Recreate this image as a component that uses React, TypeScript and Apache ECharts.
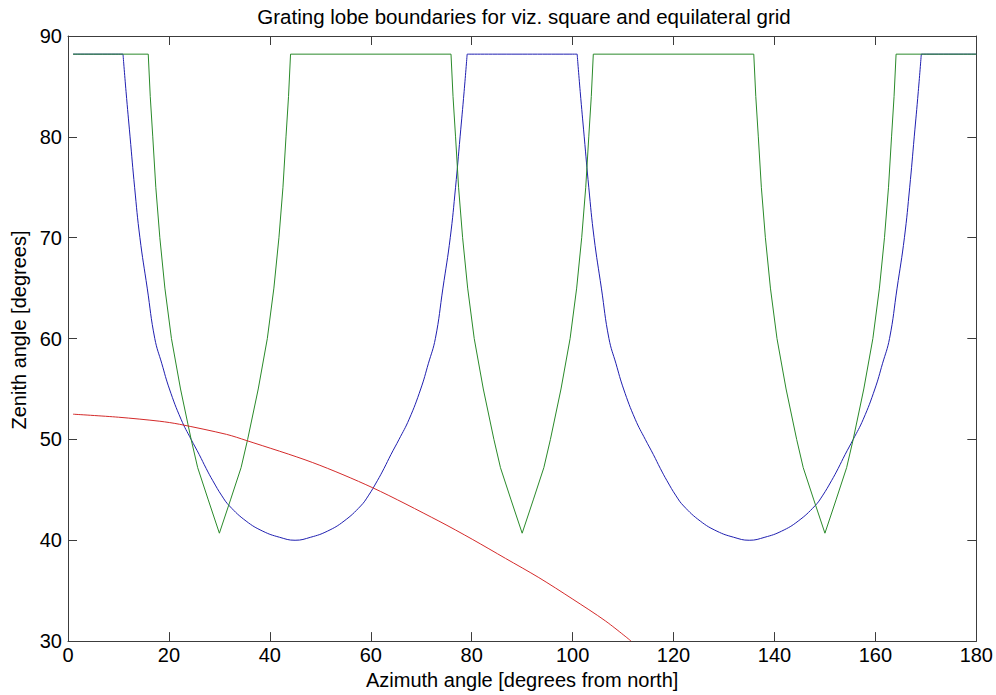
import React, { useEffect, useRef } from "react";
import * as echarts from "echarts";

const titleText = "Grating lobe boundaries for viz. square and equilateral grid";
const xAxisName = "Azimuth angle [degrees from north]";
const yAxisName = "Zenith angle [degrees]";

// Square grid boundary (blue)
const blueAz = [
  1, 10.9, 11.5, 12.3, 13.2, 14.25, 15.7, 17.2, 18.6, 20.1, 22.4, 24.4, 26.0, 27.4, 28.7, 30.5, 32.0, 35.3, 38.6, 41.9, 45,
  48.1, 51.4, 54.7, 58.0, 59.5, 61.3, 62.6, 64.0, 65.6, 67.6, 69.9, 71.4, 72.8, 74.3, 75.75, 76.8, 77.7, 78.5, 79.1,
  100.9, 101.5, 102.3, 103.2, 104.25, 105.7, 107.2, 108.6, 110.1, 112.4, 114.4, 116.0, 117.4, 118.7, 120.5, 122.0, 125.3, 128.6, 131.9, 135,
  138.1, 141.4, 144.7, 148.0, 149.5, 151.3, 152.6, 154.0, 155.6, 157.6, 159.9, 161.4, 162.8, 164.3, 165.75, 166.8, 167.7, 168.5, 169.1, 180,
];
const blueZen = [
  88.2, 88.2, 84.5, 80, 75, 70, 65, 60, 57.5, 55, 52, 50, 48.5, 47.1, 45.9, 44.4, 43.4, 41.9, 40.9, 40.3, 40.0,
  40.3, 40.9, 41.9, 43.4, 44.4, 45.9, 47.1, 48.5, 50, 52, 55, 57.5, 60, 65, 70, 75, 80, 84.5, 88.2,
  88.2, 84.5, 80, 75, 70, 65, 60, 57.5, 55, 52, 50, 48.5, 47.1, 45.9, 44.4, 43.4, 41.9, 40.9, 40.3, 40.0,
  40.3, 40.9, 41.9, 43.4, 44.4, 45.9, 47.1, 48.5, 50, 52, 55, 57.5, 60, 65, 70, 75, 80, 84.5, 88.2, 88.2,
];

// Equilateral grid boundary (green)
const greenAz = [
  1, 15.9, 16.3, 16.8, 17.4, 18.2, 19.2, 20.5, 22.3, 24.4, 25.7, 27.8, 30,
  32.2, 34.3, 35.6, 37.7, 39.5, 40.8, 41.8, 42.6, 43.2, 43.7, 44.1,
  75.9, 76.3, 76.8, 77.4, 78.2, 79.2, 80.5, 82.3, 84.4, 85.7, 87.8, 90,
  92.2, 94.3, 95.6, 97.7, 99.5, 100.8, 101.8, 102.6, 103.2, 103.7, 104.1,
  135.9, 136.3, 136.8, 137.4, 138.2, 139.2, 140.5, 142.3, 144.4, 145.7, 147.8, 150,
  152.2, 154.3, 155.6, 157.7, 159.5, 160.8, 161.8, 162.6, 163.2, 163.7, 164.1, 180,
];
const greenZen = [
  88.2, 88.2, 84, 80, 75, 70, 65, 60, 55, 50, 47.2, 44, 40.7,
  44, 47.2, 50, 55, 60, 65, 70, 75, 80, 84, 88.2,
  88.2, 84, 80, 75, 70, 65, 60, 55, 50, 47.2, 44, 40.7,
  44, 47.2, 50, 55, 60, 65, 70, 75, 80, 84, 88.2,
  88.2, 84, 80, 75, 70, 65, 60, 55, 50, 47.2, 44, 40.7,
  44, 47.2, 50, 55, 60, 65, 70, 75, 80, 84, 88.2, 88.2,
];

// Red curve
const redAz = [1, 10, 18.2, 22.1, 31.4, 35.3, 48.5, 60.4, 73.5, 80.1, 86.7, 93.3, 99.9, 106.5, 111.6];
const redZen = [52.5, 52.2, 51.8, 51.5, 50.5, 49.9, 47.7, 45.2, 41.9, 40.1, 38.2, 36.3, 34.2, 32.0, 30.0];

const capZen = 88.2;
const xTicks = { min: 0, max: 180, interval: 20 };
const yTicks = { min: 30, max: 90, interval: 10 };

const zip = (a: number[], b: number[]) => a.map((v, i) => [v, b[i]]);

// split a capped curve into flat-cap pieces and curved pieces (so smoothing keeps cap corners sharp)
const segmented = (az: number[], zen: number[], cap: number) => {
  const out: (number | string)[][] = [[az[0], zen[0]]];
  let prev: string | null = null;
  for (let i = 0; i < az.length - 1; i++) {
    const type = zen[i] === cap && zen[i + 1] === cap ? "cap" : "curve";
    if (prev && type !== prev) {
      out.push(["-", "-"]);
      out.push([az[i], zen[i]]);
    }
    out.push([az[i + 1], zen[i + 1]]);
    prev = type;
  }
  return out;
};

export default function App() {
  const ref = useRef<HTMLDivElement>(null);
  useEffect(() => {
    if (!ref.current) return;
    const chart = echarts.init(ref.current, null, { renderer: "svg" });
    const font = "'Liberation Sans', Arial, Helvetica, sans-serif";
    const axisColor = "#3c3c3c";
    const fs = 20;
    const line = { show: true, onZero: false, lineStyle: { color: axisColor, width: 1 } };
    const tick = { show: true, inside: true, length: 9, lineStyle: { color: axisColor, width: 1 } };
    const label = { color: "#000", fontSize: fs, fontFamily: font };
    chart.setOption({
      animation: false,
      backgroundColor: "#fff",
      graphic: [
        {
          type: "text",
          x: 524,
          y: 6,
          style: {
            text: titleText,
            fill: "#000",
            fontSize: 20.5,
            fontFamily: font,
            textAlign: "center",
            textVerticalAlign: "top",
          },
        },
        {
          type: "text",
          x: 19,
          y: 330,
          rotation: Math.PI / 2,
          style: {
            text: yAxisName,
            fill: "#000",
            fontSize: fs,
            fontFamily: font,
            textAlign: "center",
            textVerticalAlign: "middle",
          },
        },
      ],
      grid: { left: 68, right: 18, top: 36, bottom: 50, containLabel: false },
      xAxis: [
        {
          type: "value",
          ...xTicks,
          position: "bottom",
          axisLine: line,
          axisTick: tick,
          axisLabel: { ...label, margin: 4 },
          splitLine: { show: false },
          name: xAxisName,
          nameLocation: "middle",
          nameGap: 27,
          nameTextStyle: { color: "#000", fontSize: fs, fontFamily: font },
        },
        {
          type: "value",
          ...xTicks,
          position: "top",
          axisLine: line,
          axisTick: tick,
          axisLabel: { show: false },
          splitLine: { show: false },
        },
      ],
      yAxis: [
        {
          type: "value",
          ...yTicks,
          position: "left",
          axisLine: line,
          axisTick: tick,
          axisLabel: { ...label, margin: 6 },
          splitLine: { show: false },
        },
        {
          type: "value",
          ...yTicks,
          position: "right",
          axisLine: line,
          axisTick: tick,
          axisLabel: { show: false },
          splitLine: { show: false },
        },
      ],
      series: [
        {
          type: "line",
          data: segmented(blueAz, blueZen, capZen),
          connectNulls: false,
          smooth: 0.45,
          showSymbol: false,
          symbol: "none",
          clip: true,
          lineStyle: { color: "#1f1fb0", width: 1 },
          itemStyle: { color: "#1f1fb0" },
        },
        {
          type: "line",
          data: zip(greenAz, greenZen),
          showSymbol: false,
          symbol: "none",
          clip: true,
          lineStyle: { color: "#2a8a2a", width: 1 },
          itemStyle: { color: "#2a8a2a" },
        },
        {
          type: "line",
          data: zip(redAz, redZen),
          smooth: 0.3,
          showSymbol: false,
          symbol: "none",
          clip: true,
          lineStyle: { color: "#d42a2a", width: 1 },
          itemStyle: { color: "#d42a2a" },
        },
      ],
    });
    return () => chart.dispose();
  }, []);
  return (
    <div
      ref={ref}
      style={{ position: "fixed", left: 0, top: 0, width: 996, height: 695, background: "#fff" }}
    />
  );
}
